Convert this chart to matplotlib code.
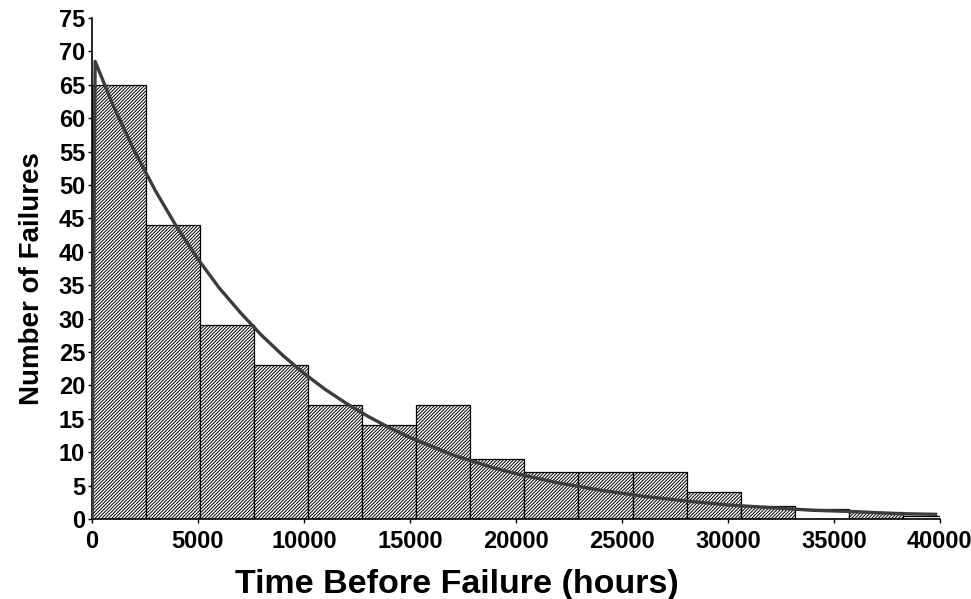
import matplotlib
matplotlib.use("Agg")
import matplotlib.pyplot as plt
import numpy as np

# histogram bins (hours)
bin_edges = [0, 2550, 5100, 7650, 10200, 12750, 15300, 17850, 20400,
             22950, 25500, 28050, 30600, 33150, 35700, 38250, 40000]
failures = [65, 44, 29, 23, 17, 14, 17, 9, 7, 7, 7, 4, 2, 1.5, 1, 0.4]
# two of the small bars show no hatching in the scan
hatched = [True] * 13 + [False, True, False]

# fitted curve, points
curve_t = [0, 150, 1000, 2000, 3000, 4000, 5000, 6000, 7000, 8000, 9000,
           10000, 11000, 12000, 13000, 14000, 15000, 16000, 17000, 18000,
           19000, 20000, 22000, 24000, 26000, 28000, 30000, 32000, 34000,
           36000, 38000, 39800]
curve_n = [0, 68.5, 61.9, 55.1, 49.1, 43.7, 38.9, 34.6, 30.9, 27.5, 24.5,
           21.8, 19.4, 17.3, 15.4, 13.7, 12.2, 10.9, 9.6, 8.6,
           7.6, 6.8, 5.4, 4.3, 3.4, 2.7, 2.1, 1.7, 1.3,
           1.1, 0.8, 0.7]

plt.rcParams['font.family'] = ['Liberation Sans', 'DejaVu Sans']
plt.rcParams['hatch.linewidth'] = 0.7

fig = plt.figure(figsize=(9.71, 5.99), dpi=100)
ax = fig.add_axes([0.0947, 0.1336, 0.8733, 0.8364])

edges = np.array(bin_edges, dtype=float)
lefts = edges[:-1]
widths = np.diff(edges)
for left, w, n, h in zip(lefts, widths, failures, hatched):
    ax.bar(left, n, width=w, align='edge', facecolor='white',
           edgecolor='black', linewidth=0.9,
           hatch='//////////' if h else None, zorder=2)

ax.plot(curve_t, curve_n, color='#3c3c3c', linewidth=2.4, zorder=3)

ax.set_xlim(0, 40000)
ax.set_ylim(0, 75)
ax.set_xticks(np.arange(0, 40001, 5000))
ax.set_yticks(np.arange(0, 76, 5))

for s in ['top', 'right']:
    ax.spines[s].set_visible(False)
ax.spines['left'].set_linewidth(1.2)
ax.spines['bottom'].set_linewidth(1.2)

ax.tick_params(axis='both', direction='out', length=3, width=1,
               labelsize=17, pad=2)
ax.tick_params(axis='x', pad=5)
for lab in ax.get_xticklabels() + ax.get_yticklabels():
    lab.set_fontweight('bold')

ax.set_xlabel('Time Before Failure (hours)', fontsize=24.5, fontweight='bold')
ax.set_ylabel('Number of Failures', fontsize=20, fontweight='bold')
ax.xaxis.set_label_coords(0.43, -0.1)
ax.yaxis.set_label_coords(-0.055, 0.48)

fig.savefig('out.png', dpi=100)
